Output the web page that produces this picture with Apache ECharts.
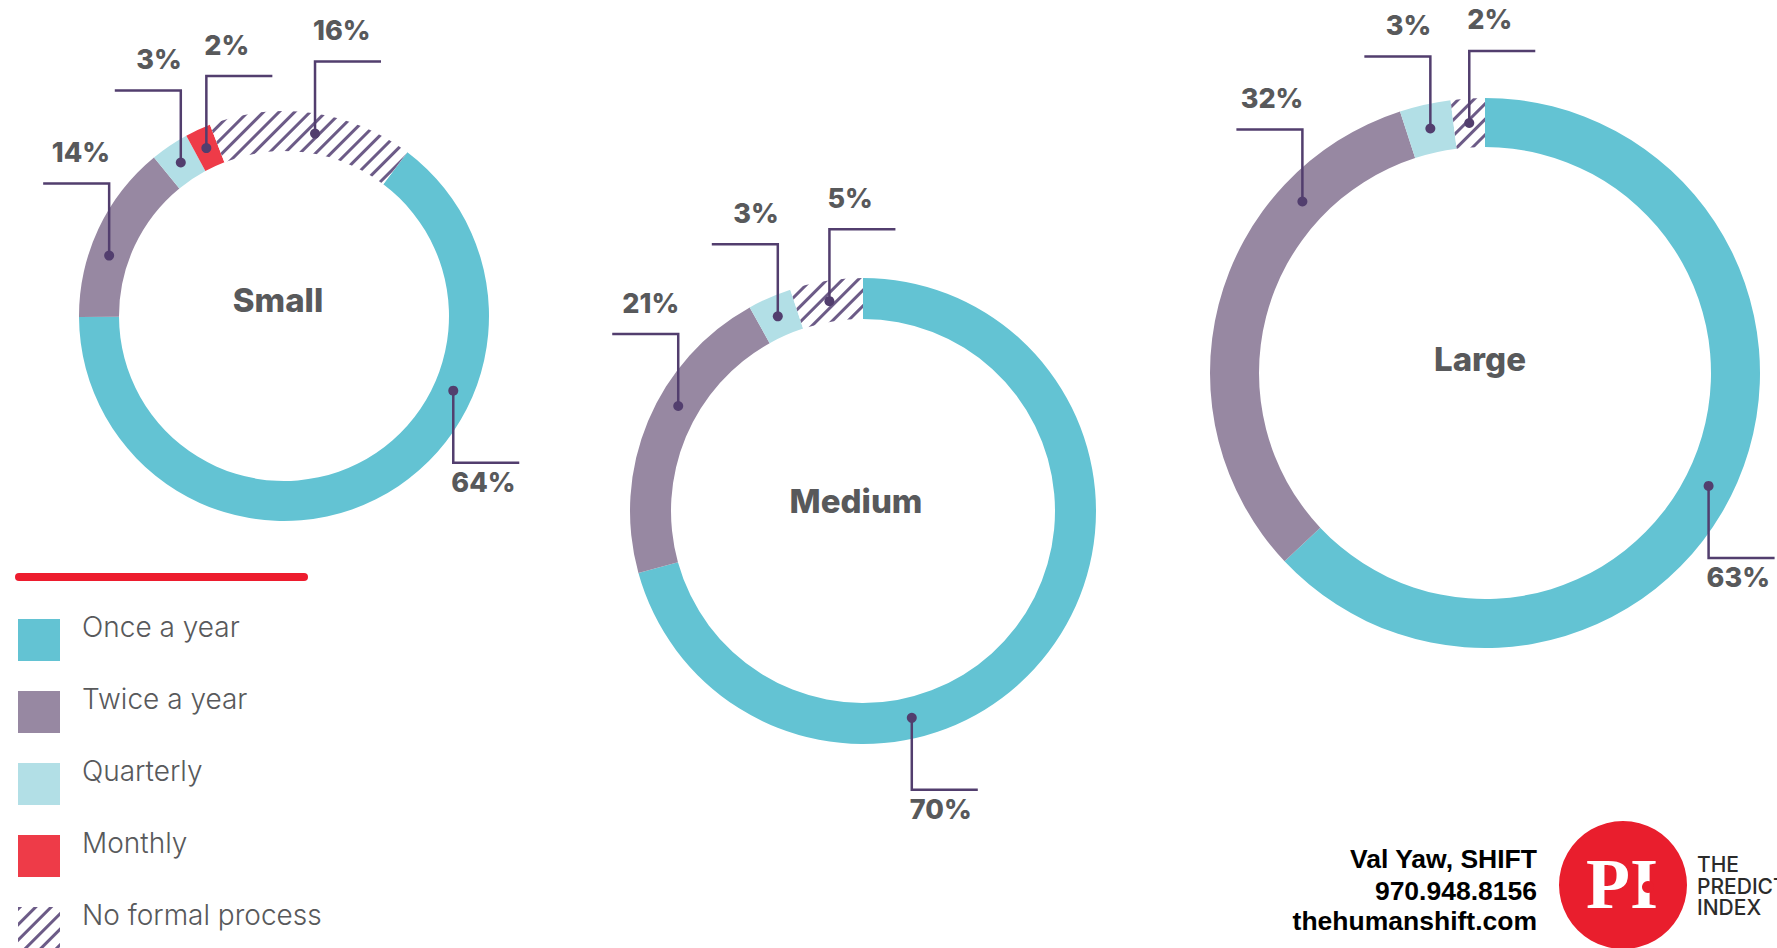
<!DOCTYPE html>
<html><head><meta charset="utf-8">
<script src="https://cdn.jsdelivr.net/npm/echarts@6/dist/echarts.min.js"></script>
<style>html,body{margin:0;padding:0;background:#fff}#c{width:1777px;height:948px}</style>
</head><body><div id="c"></div>
<script>
// ---- data ----
const categories = ['Once a year', 'Twice a year', 'Quarterly', 'Monthly', 'No formal process'];
const chartNames = ['Small', 'Medium', 'Large'];
const smallValues = [64, 14, 3, 2, 16];
const mediumValues = [70, 21, 3, 0, 5];
const largeValues = [63, 32, 3, 0, 2];
const allValues = [smallValues, mediumValues, largeValues];

// ---- style / layout ----
const colors = ['#63c3d3', '#9788a2', '#b2dfe6', '#ee3b48', '#ffffff'];
const hatch = { symbol: 'rect', symbolSize: 1, dashArrayX: [1, 0], dashArrayY: [2.5, 8], rotation: -Math.PI / 4, color: '#6c5b87', backgroundColor: '#ffffff' };
const rings = [
  { center: [284, 316], radius: [165, 205], startAngle: 53, title: [278, 300] },
  { center: [863, 511], radius: [192, 233], startAngle: 90, title: [856, 501] },
  { center: [1485, 373], radius: [226, 275], startAngle: 90, title: [1480, 359] }
];
// where along each segment the leader dot sits (fraction of the segment), per ring, per category
const dotAnchors = [
  [0.33, 0.38, 0.5, 0.5, 0.53],
  [0.655, 0.59, 0.5, 0.5, 0.5],
  [0.515, 0.75, 0.5, 0.5, 0.5]
];
// leader direction per category: [horizontal, vertical]
const leaderDir = [[1, 1], [-1, -1], [-1, -1], [1, -1], [1, -1]];
const leaderColor = '#523e6e';
const textGray = '#58595b';
const pctFont = '800 27px Inter, "Noto Sans", sans-serif';
const footFont = 'bold 26.5px "Liberation Sans", Arial, sans-serif';

const sum = a => a.reduce((s, v) => s + v, 0);

const pieSeries = rings.map((rg, k) => ({
  type: 'pie', center: rg.center, radius: rg.radius, startAngle: rg.startAngle, clockwise: true,
  silent: true, animation: false, emphasis: { disabled: true }, z: 2,
  label: { show: false }, labelLine: { show: false },
  data: allValues[k].map((v, i) => ({
    name: categories[i], value: v,
    itemStyle: i === 4 ? { color: colors[i], decal: hatch } : { color: colors[i] }
  })).filter(d => d.value > 0)
}));

const labelSeries = rings.map((rg, k) => {
  const vals = allValues[k];
  const mid = (rg.radius[0] + rg.radius[1]) / 2 / rg.radius[1];
  let cum = 0;
  const data = [];
  vals.forEach((v, i) => {
    if (v > 0) data.push([mid, cum + v * dotAnchors[k][i], i, v]);
    cum += v;
  });
  return {
    type: 'custom', coordinateSystem: 'polar', polarIndex: k, silent: true, animation: false, clip: false, z: 10,
    encode: { radius: 0, angle: 1 },
    data: data,
    renderItem: (params, api) => {
      const p = api.coord([api.value(0), api.value(1)]);
      const cat = api.value(2), v = api.value(3);
      const [hx, vy] = leaderDir[cat];
      const elbow = [p[0], p[1] + vy * 72];
      const end = [p[0] + hx * 66, elbow[1]];
      return {
        type: 'group', children: [
          { type: 'polyline', z2: 1, shape: { points: [p, elbow, end] }, style: { stroke: leaderColor, lineWidth: 2.5, fill: null } },
          { type: 'circle', z2: 2, shape: { cx: p[0], cy: p[1], r: 5 }, style: { fill: leaderColor } },
          { type: 'text', x: hx < 0 ? p[0] + 1 : p[0] - 2, y: vy < 0 ? elbow[1] - 31 : elbow[1] + 20,
            style: { text: v + '%', textAlign: hx < 0 ? 'right' : 'left', textVerticalAlign: 'middle', font: pctFont, fill: textGray } }
        ]
      };
    }
  };
});

const graphics = [
  { type: 'line', shape: { x1: 19, y1: 577, x2: 304, y2: 577 }, style: { stroke: '#ed1c2e', lineWidth: 8, lineCap: 'round' }, silent: true },
  ...rings.map((rg, k) => ({ type: 'text', x: rg.title[0], y: rg.title[1],
    style: { text: chartNames[k], textAlign: 'center', textVerticalAlign: 'middle', font: '800 33px Inter, "Noto Sans", sans-serif', fill: textGray } })),
  { type: 'text', x: 1537, y: 859, style: { text: 'Val Yaw, SHIFT', textAlign: 'right', textVerticalAlign: 'middle', font: footFont, fill: '#000' } },
  { type: 'text', x: 1537, y: 891, style: { text: '970.948.8156', textAlign: 'right', textVerticalAlign: 'middle', font: footFont, fill: '#000' } },
  { type: 'text', x: 1537, y: 921, style: { text: 'thehumanshift.com', textAlign: 'right', textVerticalAlign: 'middle', font: footFont, fill: '#000' } },
  { type: 'circle', shape: { cx: 1623, cy: 885, r: 64 }, style: { fill: '#e91e2d' } },
  { type: 'text', x: 1622, y: 884, style: { text: 'PI', textAlign: 'center', textVerticalAlign: 'middle', font: 'bold 72px "Liberation Serif", serif', fill: '#fff' } },
  { type: 'circle', shape: { cx: 1648, cy: 887, r: 6 }, style: { fill: '#e91e2d' } },
  { type: 'text', x: 1697, y: 886, style: { text: 'THE\nPREDICTIVE\nINDEX', textAlign: 'left', textVerticalAlign: 'middle', lineHeight: 21.5, font: '500 21px Inter, sans-serif', fill: '#2b2b2b' } }
];

const chart = echarts.init(document.getElementById('c'), null, { renderer: 'svg' });
chart.setOption({
  backgroundColor: '#fff',
  animation: false,
  polar: rings.map(rg => ({ center: rg.center, radius: rg.radius[1] })),
  angleAxis: rings.map((rg, k) => ({ polarIndex: k, type: 'value', min: 0, max: sum(allValues[k]), startAngle: rg.startAngle, clockwise: true, show: false })),
  radiusAxis: rings.map((rg, k) => ({ polarIndex: k, type: 'value', min: 0, max: 1, show: false })),
  legend: {
    orient: 'vertical', left: 18, top: 613, height: 420, padding: 0, itemWidth: 42, itemHeight: 42, itemGap: 24, icon: 'rect',
    selectedMode: false, data: categories,
    formatter: '{t|{name}}',
    textStyle: {
      color: textGray, fontSize: 28, fontFamily: 'Inter, "Noto Sans", sans-serif', fontWeight: 300,
      rich: { t: { color: textGray, fontSize: 28, fontFamily: 'Inter, "Noto Sans", sans-serif', fontWeight: 300, padding: [0, 0, 26, 17] } }
    }
  },
  series: [...pieSeries, ...labelSeries],
  graphic: graphics
});
</script>
</body></html>
